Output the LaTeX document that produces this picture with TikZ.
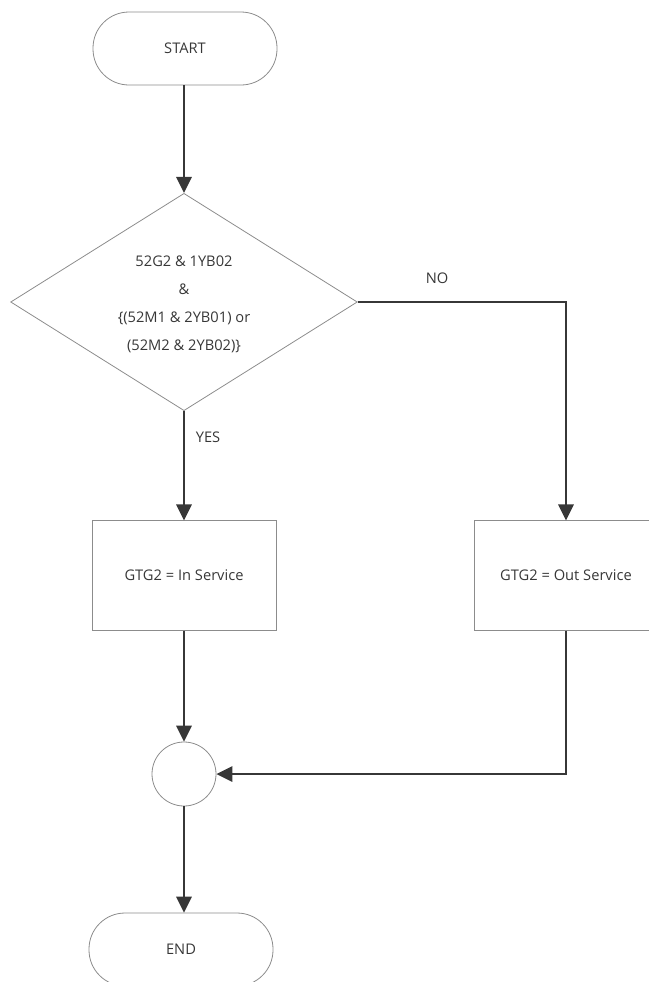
\documentclass[tikz,border=0pt]{standalone}
\usepackage{fontspec}
\setmainfont{Open Sans}
\usetikzlibrary{shapes.geometric, arrows.meta}
\definecolor{edgegray}{RGB}{140,140,140}
\definecolor{flowgray}{RGB}{55,55,55}
\definecolor{textgray}{RGB}{55,55,55}

\begin{document}
\begin{tikzpicture}[x=0.75pt,y=0.75pt,yscale=-1,xscale=1,
  font=\fontsize{11}{21}\selectfont, text=textgray,
  terminal/.style={draw=edgegray, line width=0.6pt, rounded corners=27pt, minimum width=138pt, minimum height=54.75pt},
  process/.style={draw=edgegray, line width=0.6pt, minimum width=138pt, minimum height=82pt},
  decision/.style={draw=edgegray, line width=0.6pt, diamond, inner sep=0pt, minimum width=260pt, minimum height=163pt},
  junction/.style={draw=edgegray, line width=0.6pt, circle, inner sep=0pt, minimum size=48pt},
  flow/.style={draw=flowgray, line width=1.6pt, -{Triangle[length=12pt,width=11.5pt]}}]
\useasboundingbox (0,0) rectangle (649,982);

% Shapes
\node [terminal] (start) at (185,48.5) {START};
\node [decision] (cond) at (184,302) {};
\node [align=center] (condtxt) at (184,304) {52G2 \& 1YB02\\ \&\\ \{(52M1 \& 2YB01) or\\ (52M2 \& 2YB02)\}};
\node [process] (inbox) at (184,575.5) {GTG2 = In Service};
\node [process] (outbox) at (566,575.5) {GTG2 = Out Service};
\node [junction] (join) at (184,774) {};
\node [terminal] (end) at (181,949.5) {END};

% Text Node
\node (yes) at (208,437) {YES};
% Text Node
\node (no) at (437,278) {NO};

% Connectors
\draw [flow] (start.south -| cond.north) -- (cond.north);
\draw [flow] (cond.south) -- (inbox.north);
\draw [flow] (cond.east) -| (outbox.north);
\draw [flow] (inbox.south) -- (join.north);
\draw [flow] (outbox.south) |- (join.east);
\draw [flow] (join.south) -- (join.south |- end.north);

\end{tikzpicture}
\end{document}
